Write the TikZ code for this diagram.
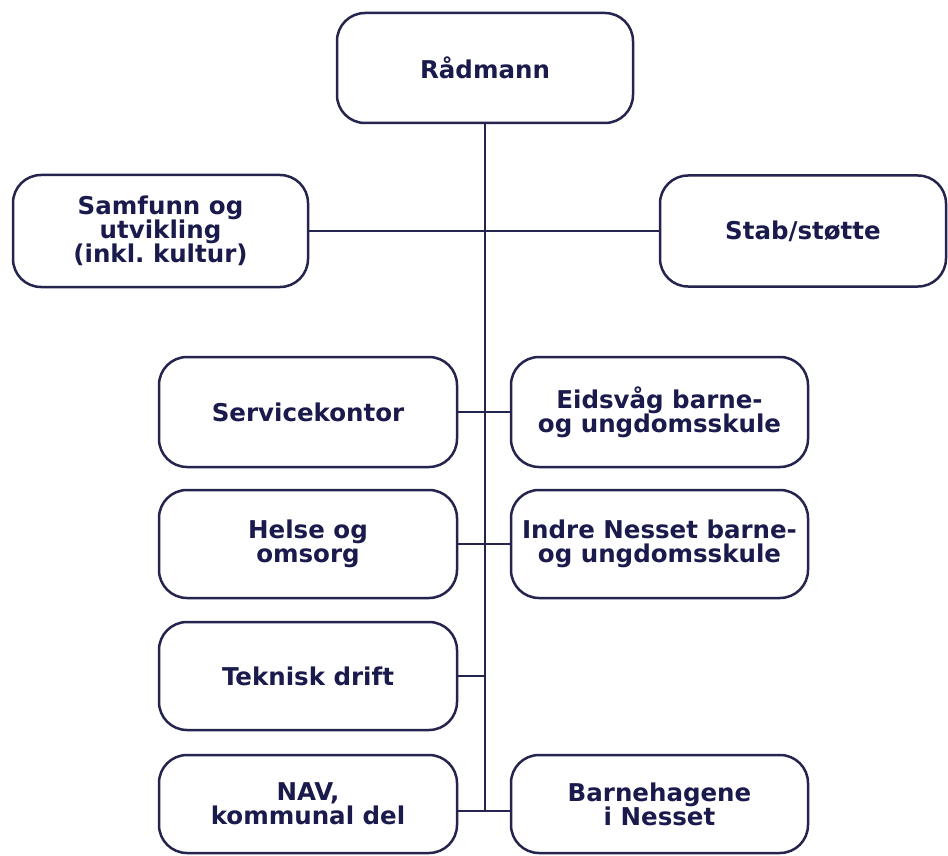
\documentclass[tikz,border=0pt]{standalone}
\usepackage{fontspec}
\setmainfont{DejaVu Sans}
\frenchspacing
\definecolor{navy}{HTML}{24244E}
\definecolor{txt}{HTML}{1A1A4C}
\begin{document}
\begin{tikzpicture}[x=1pt,y=-1pt,
  box/.style={draw=navy, line width=2.5pt, rounded corners=28pt, fill=white,
    align=center, text=txt, font=\bfseries\fontsize{24.5}{24}\selectfont\frenchspacing,
    inner sep=0pt},
  conn/.style={draw=navy, line width=2.2pt}]
\useasboundingbox[fill=white] (0,0) rectangle (948,856);
\node[box, minimum width=296pt, minimum height=110pt] (rad) at (485,68) {Rådmann};
\node[box, minimum width=295pt, minimum height=112pt] (sam) at (160.5,231) {Samfunn og\\utvikling\\(inkl. kultur)};
\node[box, minimum width=286pt, minimum height=111pt] (stab) at (803,231) {Stab/støtte};
\node[box, minimum width=298pt, minimum height=110pt] (serv) at (308,412) {Servicekontor};
\node[box, minimum width=297pt, minimum height=110pt] (eids) at (659.5,412) {Eidsvåg barne-\\og ungdomsskule};
\node[box, minimum width=298pt, minimum height=108pt] (helse) at (308,544) {Helse og\\omsorg};
\node[box, minimum width=297pt, minimum height=108pt] (indre) at (659.5,544) {Indre Nesset barne-\\og ungdomsskule};
\node[box, minimum width=298pt, minimum height=108pt] (tek) at (308,676) {Teknisk drift};
\node[box, minimum width=298pt, minimum height=98pt] (nav) at (308,804) {NAV,\\kommunal del};
\node[box, minimum width=297pt, minimum height=98pt] (barn) at (659.5,804) {Barnehagene\\i Nesset};
\coordinate (bl) at ([yshift=-7pt]nav.east);
\coordinate (br) at ([yshift=-7pt]barn.west);
\draw[conn] (rad.south) -- (rad.south |- bl);
\draw[conn] (sam.east) -- (stab.west);
\draw[conn] (serv.east) -- (eids.west);
\draw[conn] (helse.east) -- (indre.west);
\draw[conn] (tek.east) -- (tek.east -| rad.south);
\draw[conn] (bl) -- (br);
\end{tikzpicture}
\end{document}
